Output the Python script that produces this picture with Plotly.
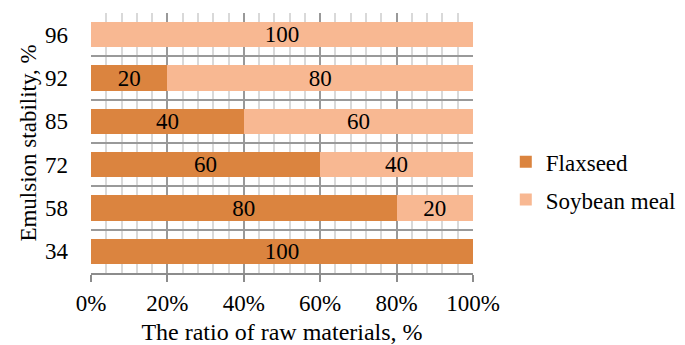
import plotly.graph_objects as go

stability = ["34", "58", "72", "85", "92", "96"]
flaxseed = [100, 80, 60, 40, 20, 0]
soybean = [0, 20, 40, 60, 80, 100]
x_ticks = [0, 20, 40, 60, 80, 100]
x_tick_labels = ["0%", "20%", "40%", "60%", "80%", "100%"]

FONT = "Times New Roman"
C_FLAX = "#DB843F"
C_SOY = "#F8B892"

fig = go.Figure()
for name, vals, col in [("Flaxseed", flaxseed, C_FLAX), ("Soybean meal", soybean, C_SOY)]:
    fig.add_trace(go.Bar(
        name=name, y=stability, x=vals, orientation="h",
        marker=dict(color=col, line=dict(width=0)),
        text=[str(v) if v else "" for v in vals],
        textposition="inside", insidetextanchor="middle", textangle=0,
        textfont=dict(family=FONT, size=23, color="black"),
        legendgroup=name, hoverinfo="skip",
    ))

# the page body adds an 8px offset, so the figure is drawn 8px smaller/shifted
fig.update_layout(
    width=677, height=337,
    margin=dict(l=83, r=211, t=5, b=72),
    barmode="stack", bargap=0.41,
    plot_bgcolor="white", paper_bgcolor="white",
    font=dict(family=FONT, size=23, color="black"),
    uniformtext=dict(minsize=23, mode="show"),
    legend=dict(x=1.083, xanchor="left", y=0.355, yanchor="middle",
                traceorder="grouped", tracegroupgap=5, borderwidth=0,
                font=dict(family=FONT, size=23, color="black")),
    xaxis=dict(
        range=[0, 100], tickmode="array", tickvals=x_ticks, ticktext=x_tick_labels,
        showgrid=True, gridcolor="#999999", gridwidth=1.5,
        minor=dict(dtick=4, showgrid=True, gridcolor="#D9D9D9", gridwidth=2),
        ticks="outside", ticklen=7, tickcolor="#8C8C8C", tickwidth=1.5,
        showline=True, linecolor="#8C8C8C", linewidth=1.5,
        zeroline=False, automargin=False,
        tickfont=dict(family=FONT, size=23, color="black"),
        title=dict(text="The ratio of raw materials, %", standoff=15,
                   font=dict(family=FONT, size=24, color="black")),
        ticklabelstandoff=2,
    ),
    yaxis=dict(
        type="category", categoryorder="array", categoryarray=stability,
        tickson="boundaries", showgrid=True, gridcolor="#999999", gridwidth=1.5,
        ticks="", ticklabelstandoff=22,
        showline=False, zeroline=False, automargin=False,
        tickfont=dict(family=FONT, size=23, color="black"),
        title=dict(text="Emulsion stability, %", standoff=1,
                   font=dict(family=FONT, size=23, color="black")),
    ),
)

fig.write_html("out.html")
